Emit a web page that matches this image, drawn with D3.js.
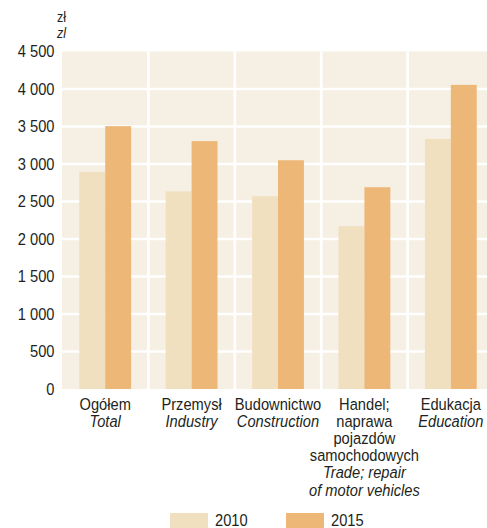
<!DOCTYPE html>
<html>
<head>
<meta charset="utf-8">
<script src="https://cdn.jsdelivr.net/npm/d3@7"></script>
<style>
  html, body { margin: 0; padding: 0; background: #fff; }
  svg { display: block; }
  text { font-family: "Liberation Sans", Arial, sans-serif; fill: #231f20; }
</style>
</head>
<body>
<svg id="chart" width="487" height="528"></svg>
<script>
// ---- data ----
const categories = ["Ogółem", "Przemysł", "Budownictwo", "Handel", "Edukacja"];
const labelsPL = [["Ogółem"], ["Przemysł"], ["Budownictwo"], ["Handel;", "naprawa", "pojazdów", "samochodowych"], ["Edukacja"]];
const labelsEN = [["Total"], ["Industry"], ["Construction"], ["Trade; repair", "of motor vehicles"], ["Education"]];
const series = ["2010", "2015"];
const values2010 = [2895, 2635, 2570, 2170, 3335];
const values2015 = [3505, 3305, 3050, 2690, 4055];
const yTicks = [0, 500, 1000, 1500, 2000, 2500, 3000, 3500, 4000, 4500];
const tickLabels = ["0", "500", "1 000", "1 500", "2 000", "2 500", "3 000", "3 500", "4 000", "4 500"];
const colors = { "2010": "#f1e0c0", "2015": "#edb877" };

const svg = d3.select("#chart");
const FS = 16.3, SX = 0.9;

const y = d3.scaleLinear().domain([0, 4500]).range([389, 51.5]);
const x0 = d3.scaleBand().domain(categories).range([62, 494]);
const bw = x0.bandwidth();
const x1 = d3.scaleBand().domain(series).range([bw * 0.2, bw * 0.8]);

function label(g, x, yy, str, opts = {}) {
  const t = g.append("g").attr("transform", `translate(${x},${yy}) scale(${SX},1)`)
    .append("text")
    .attr("font-size", opts.size || FS)
    .attr("text-anchor", opts.anchor || "middle")
    .text(str);
  if (opts.italic) t.attr("font-style", "italic");
  if (opts.dy) t.attr("dy", opts.dy);
  return t;
}

// background
svg.append("rect").attr("x", 62).attr("y", y(4500)).attr("width", 494 - 62)
  .attr("height", y(0) - y(4500)).attr("fill", "#f6efe3");

// horizontal gridlines
svg.append("g").selectAll("line").data(yTicks.filter(d => d > 0 && d < 4500)).join("line")
  .attr("x1", 62).attr("x2", 494)
  .attr("y1", d => y(d)).attr("y2", d => y(d))
  .attr("stroke", "#fff").attr("stroke-width", 2.7);

// vertical separators
svg.append("g").selectAll("line").data(categories.slice(1)).join("line")
  .attr("x1", d => x0(d)).attr("x2", d => x0(d))
  .attr("y1", y(4500)).attr("y2", y(0))
  .attr("stroke", "#fff").attr("stroke-width", 2.7);

// bars
const rows = categories.map((c, i) => ({ c, vals: [values2010[i], values2015[i]] }));
const groups = svg.append("g").selectAll("g").data(rows).join("g")
  .attr("transform", d => `translate(${x0(d.c)},0)`);
groups.selectAll("rect").data(d => d.vals.map((v, j) => ({ s: series[j], v }))).join("rect")
  .attr("x", d => x1(d.s)).attr("width", x1.bandwidth())
  .attr("y", d => y(d.v)).attr("height", d => y(0) - y(d.v))
  .attr("fill", d => colors[d.s]);

// y tick labels
const yg = svg.append("g");
yTicks.forEach((t, i) => {
  label(yg, 54.5, y(t), tickLabels[i], { anchor: "end", dy: "0.36em" });
});

// unit labels
label(svg, 57, 21.5, "zł", { anchor: "start", size: 14 });
label(svg, 57, 38, "zl", { anchor: "start", italic: true, size: 14 });

// category labels
const cg = svg.append("g");
const LH = 17.1;
categories.forEach((c, i) => {
  const cx = x0(c) + bw / 2;
  let line = 0;
  labelsPL[i].forEach(s => { label(cg, cx, 410 + LH * line, s); line++; });
  labelsEN[i].forEach(s => { label(cg, cx, 410 + LH * line, s, { italic: true }); line++; });
});

// legend
const legendX = [170, 286];
series.forEach((s, i) => {
  svg.append("rect").attr("x", legendX[i]).attr("y", 513).attr("width", 38).attr("height", 15)
    .attr("fill", colors[s]);
  label(svg, legendX[i] + 45, 526, s, { anchor: "start" });
});
</script>
</body>
</html>
